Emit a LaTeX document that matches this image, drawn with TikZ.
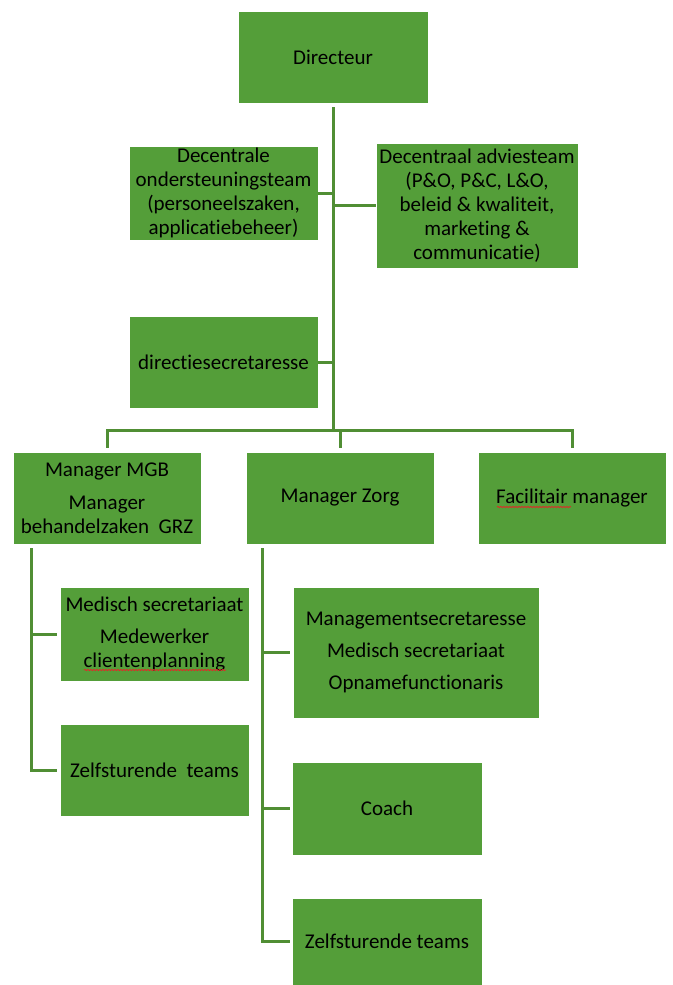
\documentclass[tikz,border=0pt]{standalone}
\usepackage{fontspec}
\setmainfont{Carlito}[Ligatures=NoCommon]
\usetikzlibrary{calc,decorations.pathmorphing}
\definecolor{boxgreen}{RGB}{84,158,57}
\definecolor{linegreen}{RGB}{80,142,52}
\definecolor{spellred}{RGB}{225,40,40}
\newcommand\boxfont{\fontsize{21}{24}\selectfont}
\tikzset{
  orgbox/.style={fill=boxgreen, draw=white, line width=0.6pt, inner sep=2pt,
    align=center, text=black, font=\boxfont},
  link/.style={draw=linegreen, line width=3pt},
  spellmark/.style={draw=spellred, line width=0.8pt,
    decoration={snake, amplitude=0.6pt, segment length=3pt}, decorate}
}
\begin{document}
\begin{tikzpicture}[x=1pt, y=-1pt]
\useasboundingbox (0,0) rectangle (672,985);

% top level and staff
\node[orgbox, minimum width=190pt, minimum height=92pt] (dir) at (333,57) {Directeur};
\node[orgbox, minimum width=189pt, minimum height=92pt] (ond) at (223.5,193)
  {Decentrale\\ondersteuningsteam\\(personeelszaken,\\applicatiebeheer)};
\node[orgbox, minimum width=202pt, minimum height=125pt] (adv) at (477,205.5)
  {Decentraal adviesteam\\(P\&O, P\&C, L\&O,\\beleid \& kwaliteit,\\marketing \&\\communicatie)};
\node[orgbox, minimum width=189pt, minimum height=92pt] (sec) at (223.5,362) {directiesecretaresse};

% managers
\node[orgbox, minimum width=188pt, minimum height=92pt] (mgb) at (107,498)
  {Manager MGB\\[9pt]Manager\\behandelzaken~~GRZ};
\node[orgbox, minimum width=188pt, minimum height=92pt] (zorg) at (340,498) {Manager Zorg};
\node[orgbox, minimum width=188pt, minimum height=92pt] (fac) at (572,498) {Facilitair manager};

% under Manager MGB
\node[orgbox, minimum width=189pt, minimum height=94pt] (med) at (154.5,634)
  {Medisch secretariaat\\[8pt]Medewerker\\clientenplanning};
\node[orgbox, minimum width=189pt, minimum height=92pt] (zl) at (154.5,770) {Zelfsturende~~teams};

% under Manager Zorg
\node[orgbox, minimum width=246pt, minimum height=131pt] (mgmt) at (416,652.5)
  {Managementsecretaresse\\[8pt]Medisch secretariaat\\[8pt]Opnamefunctionaris};
\node[orgbox, minimum width=190pt, minimum height=93pt] (coach) at (387,808.5) {Coach};
\node[orgbox, minimum width=190pt, minimum height=87pt] (zr) at (387,941.5) {Zelfsturende teams};

% spell-check underlines below "Facilitair" and "clientenplanning"
\coordinate (facA) at (497,507);
\coordinate (facB) at (571,507);
\coordinate (cliA) at (84,670);
\coordinate (cliB) at (226,670);
\draw[spellmark] (facA) -- (facB);
\draw[spellmark] (cliA) -- (cliB);

% junction points
\coordinate (top) at (333,107);
\coordinate (bus) at (333,430);
\coordinate (lv) at (31,548);
\coordinate (rv) at (262,548);

% trunk from Directeur with staff branches
\draw[link] (top) -- (bus);
\draw[link] (ond.east) -- (ond.east -| bus);
\draw[link] (adv.west) -- (adv.west -| bus);
\draw[link] (sec.east) -- (sec.east -| bus);

% bus to the managers
\draw[link] ($(mgb.north)+(0,-4)$) |- (bus) -| ($(fac.north)+(0,-4)$);
\draw[link] (bus) -| ($(zorg.north)+(0,-4)$);

% Manager MGB branch
\draw[link] (lv) |- ($(zl.west)+(-3,0)$);
\draw[link] (lv |- med.west) -- ($(med.west)+(-3,0)$);

% Manager Zorg branch
\draw[link] (rv) |- ($(zr.west)+(-2,0)$);
\draw[link] (rv |- mgmt.west) -- ($(mgmt.west)+(-3,0)$);
\draw[link] (rv |- coach.west) -- ($(coach.west)+(-2,0)$);
\end{tikzpicture}
\end{document}
